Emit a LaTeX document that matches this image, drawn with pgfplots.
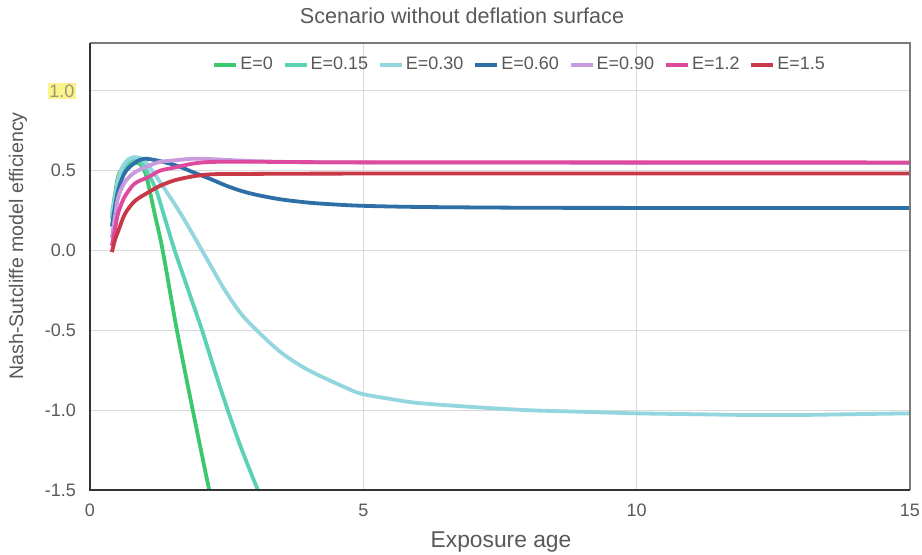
\documentclass[border=0pt]{standalone}
\usepackage{fontspec}
\setmainfont{Liberation Sans}
\usepackage{pgfplots}
\usepackage{pgfplotstable}
\pgfplotsset{compat=1.18}
\definecolor{TxtC}{HTML}{595959}
\definecolor{GridC}{HTML}{D9D9D9}
\definecolor{FrameC}{HTML}{7A7A7A}
\definecolor{DarkAx}{HTML}{333333}
\definecolor{HL}{HTML}{FBF38E}
\definecolor{HLTxt}{HTML}{9A9870}
\definecolor{cA}{HTML}{3CC96E}
\definecolor{cB}{HTML}{5BD1B5}
\definecolor{cC}{HTML}{93D6DF}
\definecolor{cD}{HTML}{2F6FA7}
\definecolor{cE}{HTML}{C79BDD}
\definecolor{cF}{HTML}{DD4A9E}
\definecolor{cG}{HTML}{C93847}
\setlength{\fboxsep}{0.8pt}

% E=0
\pgfplotstableread{
x y
0.40 0.22
0.46 0.36
0.52 0.47
0.61 0.52
0.76 0.54
0.88 0.55
0.98 0.51
1.05 0.44
1.19 0.22
1.33 0.00
1.59 -0.50
1.88 -1.00
2.18 -1.50
}\eA
% E=0.15
\pgfplotstableread{
x y
0.40 0.20
0.46 0.33
0.52 0.44
0.60 0.51
0.70 0.55
0.80 0.57
0.90 0.565
1.00 0.52
1.10 0.46
1.22 0.37
1.38 0.19
1.55 0.00
1.80 -0.25
2.05 -0.50
2.28 -0.75
2.52 -1.00
2.78 -1.25
3.07 -1.50
}\eB
% E=0.30
\pgfplotstableread{
x y
0.40 0.21
0.46 0.34
0.52 0.45
0.60 0.53
0.70 0.57
0.80 0.585
0.90 0.58
1.00 0.56
1.20 0.47
1.55 0.29
1.80 0.15
2.05 0.00
2.25 -0.12
2.47 -0.25
2.75 -0.39
3.05 -0.50
3.50 -0.64
4.00 -0.75
4.75 -0.87
5.00 -0.90
5.50 -0.93
6.00 -0.955
7.00 -0.98
8.00 -1.00
9.00 -1.01
10.00 -1.02
11.00 -1.025
12.00 -1.03
13.00 -1.03
14.00 -1.025
15.00 -1.02
}\eC
% E=0.60
\pgfplotstableread{
x y
0.40 0.15
0.46 0.28
0.52 0.385
0.64 0.49
0.82 0.55
1.00 0.575
1.28 0.56
1.60 0.53
1.89 0.49
2.19 0.45
2.50 0.405
2.80 0.37
3.10 0.345
3.50 0.32
4.00 0.30
4.50 0.288
5.00 0.28
6.00 0.273
8.00 0.268
10.00 0.267
15.00 0.267
}\eD
% E=0.90
\pgfplotstableread{
x y
0.40 0.08
0.46 0.22
0.52 0.34
0.64 0.43
0.82 0.49
1.07 0.53
1.28 0.555
1.55 0.565
1.89 0.575
2.25 0.572
3.00 0.56
4.00 0.553
6.00 0.55
15.00 0.548
}\eE
% E=1.2
\pgfplotstableread{
x y
0.40 0.03
0.46 0.14
0.52 0.24
0.64 0.34
0.82 0.42
1.07 0.46
1.28 0.50
1.55 0.52
1.89 0.545
2.25 0.555
3.00 0.556
5.00 0.553
15.00 0.552
}\eF
% E=1.5
\pgfplotstableread{
x y
0.40 -0.01
0.46 0.07
0.52 0.125
0.64 0.23
0.82 0.31
1.07 0.365
1.28 0.405
1.55 0.44
1.89 0.465
2.25 0.478
3.00 0.48
5.00 0.482
15.00 0.483
}\eG

\pgfplotsset{
  curve/.style={smooth,no marks,line width=1.9pt,draw=#1},
  legend image code/.code={\draw[#1] (0pt,0pt) -- (11pt,0pt);},
}

\begin{document}
\begin{tikzpicture}
\useasboundingbox (-45pt,-32.5pt) rectangle (416pt,245pt);
\fill[white] (-45pt,-32.5pt) rectangle (416pt,245pt);
\begin{axis}[
  at={(0,0)},anchor=south west,scale only axis,
  width=410pt,height=223.5pt,
  xmin=0,xmax=15,ymin=-1.5,ymax=1.3,
  axis line style={draw=none},
  xtick={0,5,10,15},xticklabels={0,5,10,15},
  ytick={-1.5,-1,-0.5,0,0.5,1},
  yticklabels={-1.5,-1.0,-0.5,0.0,0.5,{\colorbox{HL}{\textcolor{HLTxt}{1.0}}}},
  major tick length=0pt,
  tick label style={font=\fontsize{9}{10}\selectfont,text=TxtC},
  xticklabel shift=3.5pt,
  yticklabel shift=3.5pt,
  xmajorgrids,ymajorgrids,
  major grid style={draw=GridC,line width=0.5pt},
  legend style={at={(0.524,0.951)},anchor=center,draw=none,fill=none,
    legend columns=7,font=\fontsize{9}{10}\selectfont,text=TxtC,
    /tikz/every even column/.append style={column sep=4pt},
    nodes={inner sep=1pt}},
  legend cell align=left,
]
\addplot[curve=cA] table {\eA};
\addplot[curve=cB] table {\eB};
\addplot[curve=cC] table {\eC};
\addplot[curve=cD] table {\eD};
\addplot[curve=cE] table {\eE};
\addplot[curve=cF] table {\eF};
\addplot[curve=cG] table {\eG};
\legend{E=0,E=0.15,E=0.30,E=0.60,E=0.90,E=1.2,E=1.5}
\end{axis}
\draw[FrameC,line width=1pt] (0pt,223.5pt) -- (410pt,223.5pt) -- (410pt,0pt);
\draw[DarkAx,line width=1pt] (0pt,223.5pt) -- (0pt,0pt) -- (410pt,0pt);
\node[anchor=base,text=TxtC,font=\fontsize{10.8}{12}\selectfont] at (186pt,233pt) {Scenario without deflation surface};
\node[anchor=base,text=TxtC,font=\fontsize{11.4}{13}\selectfont] at (205.5pt,-29pt) {Exposure age};
\node[rotate=90,anchor=center,text=TxtC,font=\fontsize{9.8}{11}\selectfont] at (-36pt,122pt) {Nash-Sutcliffe model efficiency};
\end{tikzpicture}
\end{document}
